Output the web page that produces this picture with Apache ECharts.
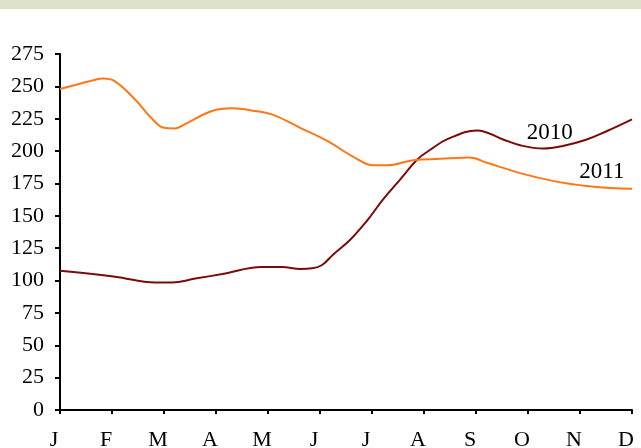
<!DOCTYPE html>
<html>
<head>
<meta charset="utf-8">
<style>
  html, body { margin: 0; padding: 0; background: #fff; }
  #chart { width: 641px; height: 448px; }
</style>
<script src="https://cdn.jsdelivr.net/npm/echarts@6/dist/echarts.min.js"></script>
</head>
<body>
<div id="chart"></div>
<script>
// ===== 数据 =====
const monthLabels = ['J', 'F', 'M', 'A', 'M', 'J', 'J', 'A', 'S', 'O', 'N', 'D']

// 位置以月为单位 (0 = J, 11 = D)
const pos2010 = [0, 1.06, 1.83, 2.15, 2.6, 3.12, 3.88, 4.27, 4.62, 4.85, 5.04, 5.25, 5.58, 5.9, 6.21, 6.54, 6.87, 7.12, 7.44, 8.02, 8.52, 8.85, 9.29, 9.67, 10.13, 10.52, 11]
const val2010 = [107.5, 103, 98.5, 98.5, 101.5, 105, 110.5, 110.5, 109, 109.5, 112, 120, 131.5, 146, 162.5, 178, 193.5, 201, 209, 216, 209, 204.5, 202, 204, 209, 215.5, 224.5]

const pos2011 = [0, 0.38, 0.62, 0.82, 1.05, 1.44, 1.77, 2.0, 2.2, 2.46, 2.92, 3.31, 3.75, 4.1, 4.62, 5.13, 5.71, 6.02, 6.29, 6.79, 7.31, 7.88, 8.21, 8.85, 9.48, 10.13, 10.96, 11]
const val2011 = [248, 252, 254.5, 256, 254, 240, 225, 218, 217.5, 222, 231, 233, 231, 228, 218, 208, 194, 189, 189, 193, 194, 195, 191, 183, 177, 173, 171, 171]

// 系列标签位置（数据坐标）
const label2010 = [9.42, 214]
const label2011 = [10.42, 183.5]

const pairs = (xs, ys) => xs.map((x, i) => [x, ys[i]])

const FONT = '"Liberation Serif", "DejaVu Serif", serif'

const chart = echarts.init(document.getElementById('chart'))

function textMark(coord, text) {
  return {
    symbol: 'circle',
    symbolSize: 0,
    silent: true,
    data: [{ coord }],
    label: {
      show: true,
      position: 'inside',
      formatter: text,
      color: '#000',
      fontFamily: FONT,
      fontSize: 23,
    },
  }
}

chart.setOption({
  animation: false,
  graphic: [{
    type: 'rect',
    left: 0, top: 0,
    shape: { width: 641, height: 9 },
    style: { fill: '#dde3c8' },
  }],
  grid: {
    left: 60, right: 9, top: 54, bottom: 38,
    containLabel: false,
    outerBoundsMode: 'none',
  },
  xAxis: {
    type: 'value',
    min: 0,
    max: 11,
    interval: 1,
    splitLine: { show: false },
    axisLine: { lineStyle: { color: '#000', width: 2 } },
    axisTick: { show: true, length: 4, lineStyle: { color: '#000', width: 2 } },
    axisLabel: {
      formatter: (v) => monthLabels[v] || '',
      color: '#000',
      fontFamily: FONT,
      fontSize: 22,
      margin: 19,
      padding: [0, 12, 0, 0],
    },
  },
  yAxis: {
    type: 'value',
    min: 0,
    max: 275,
    interval: 25,
    splitLine: { show: false },
    axisLine: { show: true, lineStyle: { color: '#000', width: 2 } },
    axisTick: { show: true, length: 5, lineStyle: { color: '#000', width: 2 } },
    axisLabel: {
      color: '#000',
      fontFamily: FONT,
      fontSize: 22,
      margin: 16,
    },
  },
  series: [
    {
      name: '2010',
      type: 'line',
      data: pairs(pos2010, val2010),
      smooth: 0.4,
      showSymbol: false,
      lineStyle: { color: '#7d0a0a', width: 2 },
      markPoint: textMark(label2010, '2010'),
    },
    {
      name: '2011',
      type: 'line',
      data: pairs(pos2011, val2011),
      smooth: 0.4,
      showSymbol: false,
      lineStyle: { color: '#ff7714', width: 2 },
      markPoint: textMark(label2011, '2011'),
    },
  ],
})
</script>
</body>
</html>
